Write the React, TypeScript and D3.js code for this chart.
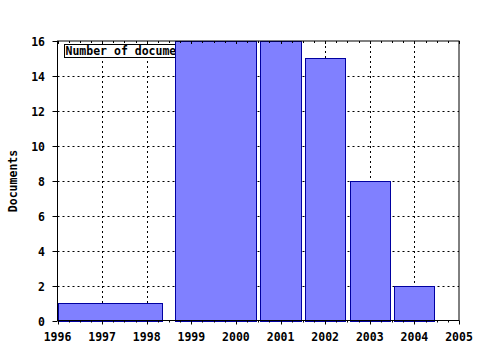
import React from "react";
import * as d3 from "d3";

const barStarts = [1996, 1998.63, 2000.55, 2001.55, 2002.55, 2003.55];
const barEnds = [1998.35, 2000.46, 2001.45, 2002.45, 2003.45, 2004.45];
const barValues = [1, 16, 16, 15, 8, 2];
const xTicks = [1996, 1997, 1998, 1999, 2000, 2001, 2002, 2003, 2004, 2005];
const yTicks = [0, 2, 4, 6, 8, 10, 12, 14, 16];
const legendLabel = "Number of documents";
const yLabel = "Documents";

const W = 480, H = 350;
const L = 57.5, R = 459, T = 41, B = 320.5;
const FONT = "'DejaVu Sans Mono', monospace";

export default function App() {
  const x = d3.scaleLinear().domain([1996, 2005]).range([L, R]);
  const y = d3.scaleLinear().domain([0, 16]).range([B, T]);
  const minor = d3.range(1996, 2005.001, 0.25);
  const bars = barValues.map((v, i) => ({ s: barStarts[i], e: barEnds[i], v }));
  return (
    <svg width={W} height={H} style={{ position: "absolute", left: 0, top: 0, background: "#fff" }}
      fontFamily={FONT} fontWeight="bold" fontSize={11.5}>
      <rect x={0} y={0} width={W} height={H} fill="#fff" />
      {xTicks.slice(1, -1).map((t) => (
        <line key={"gx" + t} x1={Math.round(x(t)) + 0.5} x2={Math.round(x(t)) + 0.5} y1={T} y2={B}
          stroke="#000" strokeDasharray="2,3" strokeWidth={1} />
      ))}
      {yTicks.slice(1, -1).map((t) => (
        <line key={"gy" + t} y1={Math.round(y(t)) + 0.5} y2={Math.round(y(t)) + 0.5} x1={L} x2={R}
          stroke="#000" strokeDasharray="2,3" strokeWidth={1} />
      ))}
      <rect x={64.5} y={44.5} width={136} height={13} fill="#fff" stroke="#000" />
      <text x={65.5} y={55} fill="#000">{legendLabel}</text>
      {bars.map((b, i) => (
        <rect key={i} x={Math.round(x(b.s)) + 0.5} y={Math.round(y(b.v)) + 0.5}
          width={Math.round(x(b.e)) - Math.round(x(b.s))} height={Math.round(y(0)) - Math.round(y(b.v))}
          fill="#8080ff" stroke="#0000a0" strokeWidth={1} />
      ))}
      <rect x={L} y={T} width={R - L} height={B - T} fill="none" stroke="#000" strokeWidth={1} />
      {minor.map((t) => {
        const major = Math.abs(t - Math.round(t)) < 1e-6;
        const px = Math.round(x(t)) + 0.5;
        return (
          <g key={"mt" + t}>
            <line x1={px} x2={px} y1={B} y2={B + (major ? 4 : 2)} stroke="#000" />
            <line x1={px} x2={px} y1={T} y2={T + (major ? 3 : 2)} stroke="#000" />
          </g>
        );
      })}
      {yTicks.map((t) => {
        const py = Math.round(y(t)) + 0.5;
        return (
          <g key={"yt" + t}>
            <line x1={L - 5} x2={L} y1={py} y2={py} stroke="#000" />
            <text x={45} y={py + 4} textAnchor="end" fill="#000">{t}</text>
          </g>
        );
      })}
      {xTicks.map((t) => (
        <text key={"xl" + t} x={x(t)} y={341} textAnchor="middle" fill="#000">{t}</text>
      ))}
      <text transform={`translate(17,181) rotate(-90)`} textAnchor="middle" fill="#000">{yLabel}</text>
    </svg>
  );
}
